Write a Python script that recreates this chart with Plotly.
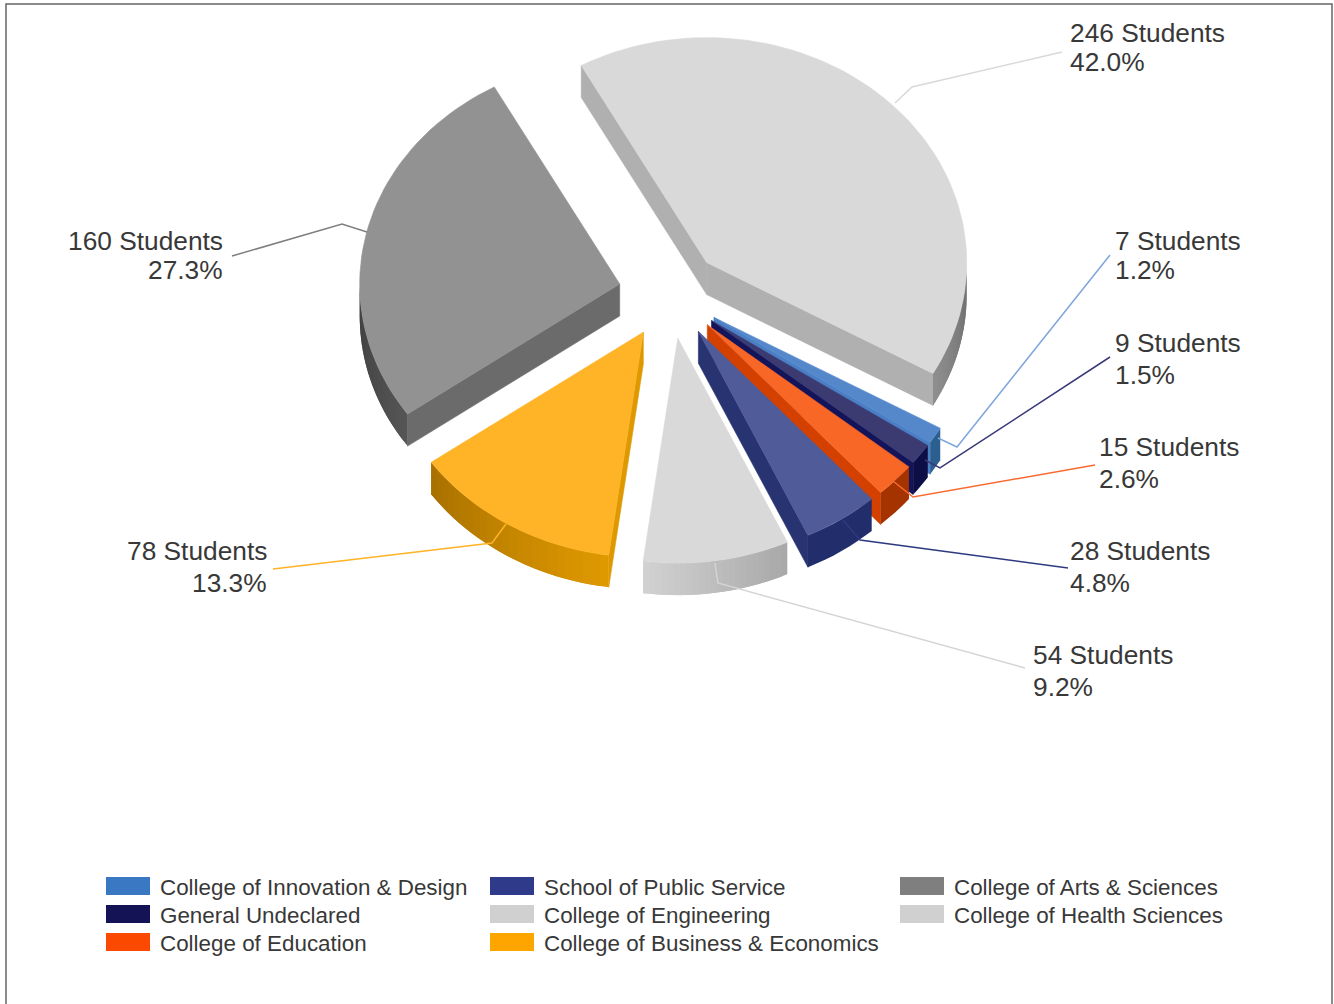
import math
import plotly.graph_objects as go

# ---- data ----
colleges = ["College of Innovation & Design", "General Undeclared", "College of Education",
            "School of Public Service", "College of Engineering", "College of Business & Economics",
            "College of Arts & Sciences", "College of Health Sciences"]
students = [7, 9, 15, 28, 54, 78, 160, 246]
percent_labels = ["1.2%", "1.5%", "2.6%", "4.8%", "9.2%", "13.3%", "27.3%", "42.0%"]

# ---- styling ----
legend_colors = ["#3b78c4", "#131355", "#fb4a00", "#2f3a8a", "#d0d0d0", "#ffa500", "#7f7f7f", "#d0d0d0"]
top_colors = ["#5488cb", "#3b3b72", "#f96727", "#505c99", "#d9d9d9", "#ffb327", "#929292", "#d9d9d9"]
cut_colors = ["#4a7fc5", "#14145a", "#d34000", "#283372", "#bbbbbb", "#de9800", "#6b6b6b", "#b0b0b0"]
rim_colors = [("#2a5f90", "#2a5f90"), ("#0e0e46", "#0e0e46"), ("#a53300", "#a53300"), ("#222e6c", "#222e6c"),
              ("#a8a8a8", "#d2d2d2"), ("#e09a00", "#a87000"), ("#555555", "#3f3f3f"), ("#6a6a6a", "#8f8f8f")]
leader_colors = ["#7ea6dc", "#3a3a78", "#f96a30", "#2e3a80", "#d4d4d4", "#ffb327", "#7f7f7f", "#d9d9d9"]
draw_order = [7, 6, 0, 1, 2, 3, 5, 4]

CX, CY = 670, 294        # pie centre
A, B = 260, 225          # ellipse radii of the tilted pie
EXPLODE = 51.6           # explosion distance, in units of the ellipse
DEPTH = 32               # extrusion
START = 119.5            # clockwise from 12 o'clock


def hex2rgb(c):
    return [int(c[i:i + 2], 16) for i in (1, 3, 5)]


def lerp(c0, c1, f):
    a, b = hex2rgb(c0), hex2rgb(c1)
    return "rgb(%d,%d,%d)" % tuple(round(a[i] + (b[i] - a[i]) * f) for i in range(3))


def unit(t):
    r = math.radians(t)
    return math.sin(r), -math.cos(r)


def polygon(xs, ys, color, name):
    return go.Scatter(x=xs, y=ys, mode="lines", fill="toself", fillcolor=color,
                      line=dict(color=color, width=0.6), name=name, hoverinfo="name", showlegend=False)


fig = go.Figure()

total = sum(students)
angle = START
spans = []
for v in students:
    spans.append((angle, angle + v / total * 360))
    angle += v / total * 360

for i in draw_order:
    t0, t1 = spans[i]
    mid = (t0 + t1) / 2
    ux, uy = unit(mid)
    ax, ay = CX + EXPLODE * ux, CY + EXPLODE * uy * B / A

    def rim(t):
        x, y = unit(t)
        return ax + A * x, ay + B * y

    # cut walls that face the viewer
    for t, normal in ((t0, t0 - 90), (t1, t1 + 90)):
        if unit(normal)[1] > 0:
            px, py = rim(t)
            fig.add_trace(polygon([ax, px, px, ax, ax], [ay, py, py + DEPTH, ay + DEPTH, ay],
                                  cut_colors[i], colleges[i]))

    # outer wall: overlapping shaded strips over every front-facing part of the rim
    for offset in (0, 360):
        lo, hi = max(t0, 90 + offset), min(t1, 270 + offset)
        if hi <= lo:
            continue
        n = 1 if rim_colors[i][0] == rim_colors[i][1] else 24
        for k in range(n):
            a0 = lo + (hi - lo) * k / n
            a_end = lo + (hi - lo) * min(k + 2, n) / n   # overlap the next strip: no seams
            m = max(4, int((a_end - a0) / 2))
            arc = [rim(a0 + (a_end - a0) * j / m) for j in range(m + 1)]
            f = (k + 0.5) / n
            xs = [p[0] for p in arc] + [p[0] for p in reversed(arc)] + [arc[0][0]]
            ys = [p[1] for p in arc] + [p[1] + DEPTH for p in reversed(arc)] + [arc[0][1]]
            fig.add_trace(go.Scatter(x=xs, y=ys, mode="lines", fill="toself",
                                     fillcolor=lerp(rim_colors[i][0], rim_colors[i][1], f),
                                     line=dict(width=0), name=colleges[i], hoverinfo="name",
                                     showlegend=False))

    # top face
    n = max(6, int((t1 - t0) / 2))
    pts = [rim(t0 + (t1 - t0) * k / n) for k in range(n + 1)]
    fig.add_trace(polygon([ax] + [p[0] for p in pts] + [ax], [ay] + [p[1] for p in pts] + [ay],
                          top_colors[i], colleges[i]))

# ---- leader lines, labels, legend, frame (layout furniture, pixel placed) ----
leaders = [
    [(938, 438), (957, 447), (1110, 255)],
    [(925, 460), (940, 468), (1110, 357)],
    [(893, 481), (913, 497), (1095, 465)],
    [(843, 520), (860, 540), (1068, 568)],
    [(715, 563), (718, 583), (1025, 668)],
    [(506, 524), (492, 543), (273, 569)],
    [(367, 232), (342, 224), (232, 256)],
    [(895, 103), (912, 87), (1062, 52)],
]
label_pos = [  # x, y of first line, y of second line, anchor
    (1113, 241, 270, "left"),
    (1113, 343, 375, "left"),
    (1097, 447, 479, "left"),
    (1068, 551, 583, "left"),
    (1031, 655, 687, "left"),
    (269, 551, 583, "right"),
    (225, 241, 270, "right"),
    (1068, 33, 62, "left"),
]
shapes, annotations = [], []
TEXT = "#383838"
for i, pts in enumerate(leaders):
    path = "M" + " L".join("%g,%g" % p for p in pts)
    shapes.append(dict(type="path", path=path, xref="x", yref="y",
                       line=dict(color=leader_colors[i], width=1.5)))
    x, y1, y2, anchor = label_pos[i]
    for y, txt in ((y1, f"{students[i]} Students"), (y2, percent_labels[i])):
        annotations.append(dict(x=x, y=y, xref="x", yref="y", text=txt, showarrow=False,
                                xanchor=anchor, yanchor="middle",
                                font=dict(family="Liberation Sans", size=26.3, color=TEXT)))

legend_x = [106, 106, 106, 490, 490, 490, 900, 900]
legend_y = [886, 914, 942, 886, 914, 942, 886, 914]
for i in range(8):
    x, y = legend_x[i], legend_y[i]
    shapes.append(dict(type="rect", x0=x, x1=x + 44, y0=y - 9, y1=y + 9, xref="x", yref="y",
                       fillcolor=legend_colors[i], line=dict(width=0)))
    annotations.append(dict(x=x + 52, y=y + 1, xref="x", yref="y", text=colleges[i], showarrow=False,
                            xanchor="left", yanchor="middle",
                            font=dict(family="Liberation Sans", size=22.4, color=TEXT)))

shapes.append(dict(type="path", path="M6,1004 L6,4 L1332,4 L1332,1004", xref="x", yref="y",
                   line=dict(color="#666666", width=1.5)))

fig.update_layout(width=1334, height=1004, margin=dict(l=0, r=0, t=0, b=0), autosize=False,
                  paper_bgcolor="white", plot_bgcolor="white", showlegend=False,
                  xaxis=dict(range=[0, 1334], visible=False, fixedrange=True),
                  yaxis=dict(range=[1004, 0], visible=False, fixedrange=True),
                  shapes=shapes, annotations=annotations)

fig.write_html("out.html", config=dict(displayModeBar=False),
               post_script="document.body.style.margin='0';document.body.style.overflow='hidden';")
